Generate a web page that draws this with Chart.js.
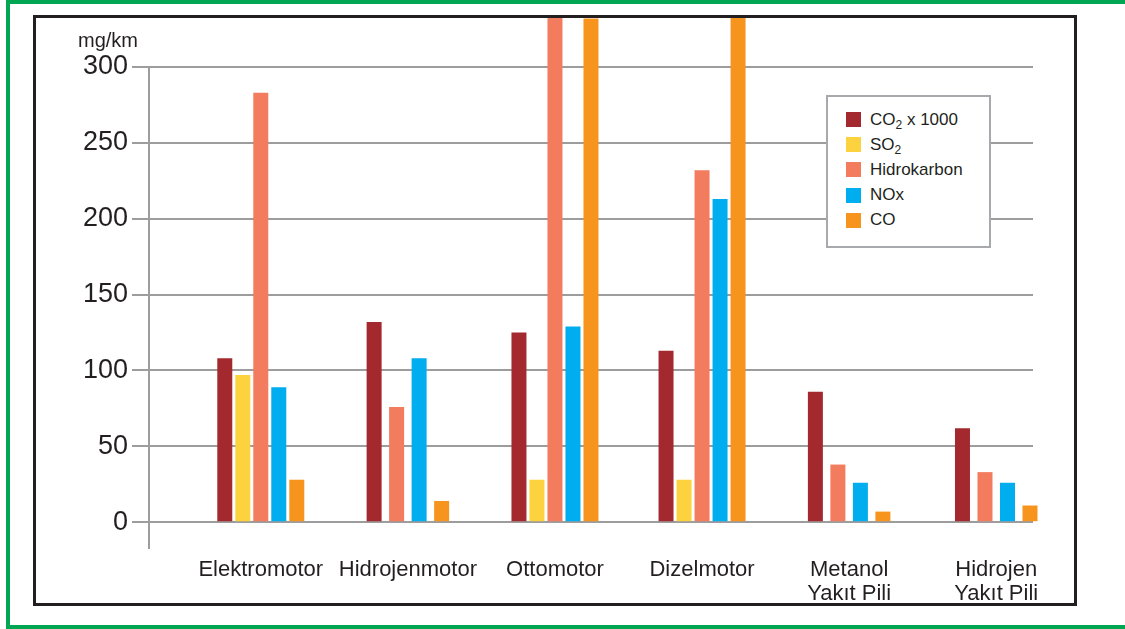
<!DOCTYPE html>
<html>
<head>
<meta charset="utf-8">
<script src="https://cdn.jsdelivr.net/npm/chart.js@4/dist/chart.umd.min.js"></script>
<style>
  html, body { margin: 0; padding: 0; background: #fff; }
  body {
    width: 1125px; height: 629px; position: relative; overflow: hidden;
    font-family: 'Liberation Sans', Arial, Helvetica, sans-serif; color: #231f20;
  }
  #frame {
    position: absolute; left: 6px; top: 0; width: 1140px; height: 629px;
    box-sizing: border-box; border-top: 4px solid #00a651;
    border-left: 4px solid #00a651; border-bottom: 4px solid #00a651;
    z-index: 3; pointer-events: none;
  }
  #box {
    position: absolute; left: 33px; top: 15px; width: 1044px; height: 591px;
    box-sizing: border-box; border: 3px solid #231f20; z-index: 3; pointer-events: none;
  }
  #chart { position: absolute; left: 0; top: 0; z-index: 1; }
  #unit {
    position: absolute; left: 78px; top: 28px; font-size: 20px; line-height: 24px; z-index: 2;
  }
  #legend {
    position: absolute; left: 826px; top: 95px; width: 165px; height: 153px;
    box-sizing: border-box; border: 2px solid #a7a9ac; background: #fff;
    padding-top: 10px; z-index: 2;
  }
  .item { display: flex; align-items: center; height: 25.2px; font-size: 17px; }
  .swatch { width: 15px; height: 15px; margin-left: 18px; margin-right: 9px; flex: none; }
  .item sub { font-size: 12px; vertical-align: -4px; line-height: 0; }
</style>
</head>
<body>
<div id="frame"></div>
<div id="box"></div>
<canvas id="chart" width="1125" height="629"></canvas>
<div id="unit"></div>
<div id="legend"></div>
<script>
// Emission values per drive type (mg/km)
const categories = ['Elektromotor', 'Hidrojenmotor', 'Ottomotor', 'Dizelmotor', 'Metanol\nYakıt Pili', 'Hidrojen\nYakıt Pili'];
const seriesNames = ['CO₂ x 1000', 'SO₂', 'Hidrokarbon', 'NOx', 'CO'];
const co2x1000 = [108, 132, 125, 113, 86, 62];
const so2 = [97, null, 28, 28, null, null];
const hidrokarbon = [283, 76, 333, 232, 38, 33];
const nox = [89, 108, 129, 213, 26, 26];
const co = [28, 14, 332, 334, 7, 11];
const yTicks = [0, 50, 100, 150, 200, 250, 300];
const unitLabel = 'mg/km';

const seriesValues = [co2x1000, so2, hidrokarbon, nox, co];
const seriesColors = ['#a3292e', '#fcd33f', '#f37b5e', '#00adee', '#f7941e'];
const fontFamily = "'Liberation Sans', Arial, Helvetica, sans-serif";
const textColor = '#231f20';
const gridColor = '#9d9d9d';

const chart = new Chart(document.getElementById('chart'), {
  type: 'bar',
  data: {
    labels: categories.map((_, i) => i),
    datasets: seriesNames.map((name, i) => ({
      label: name,
      data: seriesValues[i],
      backgroundColor: seriesColors[i]
    }))
  },
  options: {
    responsive: false,
    devicePixelRatio: 1,
    animation: false,
    layout: { padding: { left: 0, top: 67, right: 92, bottom: 0 } },
    datasets: {
      bar: {
        categoryPercentage: 0.612,
        barPercentage: 0.833,
        maxBarThickness: 15,
        skipNull: true,
        clip: false,
        borderWidth: 0
      }
    },
    plugins: { legend: { display: false }, tooltip: { enabled: false } },
    scales: {
      x: {
        type: 'linear',
        min: -0.76,
        max: 5.25,
        offset: false,
        grid: { display: false, drawTicks: false },
        border: { display: false },
        afterBuildTicks: (s) => { s.ticks = categories.map((_, i) => ({ value: i })); },
        afterFit: (s) => { s.height = 81; },
        ticks: {
          autoSkip: false,
          maxRotation: 0,
          padding: 10,
          color: textColor,
          font: { family: fontFamily, size: 22, lineHeight: 1.1 },
          callback: (v, idx) => categories[idx].split('\n')
        }
      },
      y: {
        min: -17,
        max: 300,
        afterBuildTicks: (s) => { s.ticks = yTicks.map(v => ({ value: v })); },
        afterFit: (s) => { s.width = 149; },
        grid: { color: gridColor, lineWidth: 2, tickLength: 17, drawTicks: true },
        border: { display: true, color: gridColor, width: 2 },
        ticks: {
          padding: 4,
          color: textColor,
          font: { family: fontFamily, size: 27 }
        }
      }
    }
  }
});

// Unit caption above the value axis
document.getElementById('unit').textContent = unitLabel;

// Legend built from the chart's datasets
const legendEl = document.getElementById('legend');
chart.data.datasets.forEach((ds) => {
  const row = document.createElement('div');
  row.className = 'item';
  const sw = document.createElement('span');
  sw.className = 'swatch';
  sw.style.background = ds.backgroundColor;
  const txt = document.createElement('span');
  txt.innerHTML = ds.label.replace(/₂/g, '<sub>2</sub>');
  row.appendChild(sw);
  row.appendChild(txt);
  legendEl.appendChild(row);
});
</script>
</body>
</html>
